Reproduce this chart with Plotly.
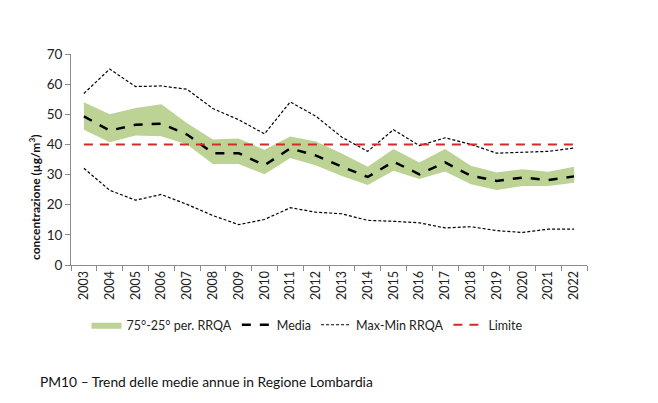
import plotly.graph_objects as go

years = [str(y) for y in range(2003, 2023)]
media = [49.3, 44.6, 46.5, 46.9, 43.3, 37.1, 37.1, 33.1, 38.7, 36.3,
         32.6, 29.2, 34.3, 30.1, 34.0, 29.6, 27.9, 29.0, 28.2, 29.4]
p75 = [54.0, 50.0, 52.1, 53.3, 47.0, 41.6, 42.0, 38.2, 42.6, 41.0,
       37.0, 32.6, 38.5, 34.0, 38.5, 32.9, 30.7, 31.8, 30.9, 32.6]
p25 = [44.9, 40.7, 43.0, 42.7, 40.0, 33.5, 33.5, 30.1, 35.5, 33.0,
       29.5, 26.5, 31.3, 28.5, 31.0, 26.8, 24.9, 26.2, 26.2, 27.3]
vmax = [56.9, 65.0, 59.2, 59.4, 58.3, 51.9, 48.2, 43.5, 54.1, 49.3,
        42.4, 37.7, 44.9, 39.6, 42.2, 40.0, 37.1, 37.4, 37.7, 38.8]
vmin = [32.1, 24.8, 21.5, 23.4, 20.1, 16.4, 13.4, 15.1, 19.0, 17.5,
        17.0, 14.8, 14.5, 14.0, 12.3, 12.7, 11.4, 10.8, 11.9, 11.9]
limite = [40] * len(years)

FONT = "Lato"
fig = go.Figure()
fig.add_trace(go.Scatter(x=years, y=p25, mode="lines", line=dict(width=0, color="#bcd395"),
                         showlegend=False, hoverinfo="skip"))
fig.add_trace(go.Scatter(x=years, y=p75, mode="lines", line=dict(width=0, color="#bcd395"),
                         fill="tonexty", fillcolor="#bcd395", name="75°-25° per. RRQA"))
fig.add_trace(go.Scatter(x=years, y=media, mode="lines", name="Media",
                         line=dict(color="black", width=2.5, dash="dash")))
fig.add_trace(go.Scatter(x=years, y=vmax, mode="lines", name="Max-Min RRQA", legendgroup="mm",
                         line=dict(color="black", width=1.2, dash="3px,2px")))
fig.add_trace(go.Scatter(x=years, y=vmin, mode="lines", name="Max-Min RRQA", legendgroup="mm",
                         showlegend=False, line=dict(color="black", width=1.2, dash="3px,2px")))
fig.add_trace(go.Scatter(x=years, y=limite, mode="lines", name="Limite",
                         line=dict(color="#d42a2a", width=2, dash="9px,7px")))

fig.update_layout(
    width=658, height=403,
    margin=dict(l=71, r=71, t=54, b=138),
    paper_bgcolor="white", plot_bgcolor="white",
    font=dict(family=FONT, size=12, color="#222"),
    legend=dict(orientation="h", x=0.03, y=-0.285, xanchor="left", yanchor="middle",
                font=dict(size=12.5), traceorder="normal", itemwidth=30),
    xaxis=dict(type="category", range=[-0.5, 19.5], tickangle=-90, showline=True,
               linecolor="#8c8c8c", ticks="outside", tickson="boundaries", ticklen=5,
               tickcolor="#8c8c8c", showgrid=False, tickfont=dict(size=12.5)),
    yaxis=dict(range=[0, 70], dtick=10, showline=True, linecolor="#8c8c8c", ticks="outside",
               ticklen=5, tickcolor="#8c8c8c", showgrid=False, zeroline=False,
               tickfont=dict(size=13.5)),
    annotations=[
        dict(text="PM10 – Trend delle medie annue in Regione Lombardia",
             xref="paper", yref="paper", x=-0.064, y=-0.55, xanchor="left",
             yanchor="middle", showarrow=False, font=dict(size=13.8, color="#111")),
        dict(text="<b>concentrazione (µg/m<sup>3</sup>)</b>", textangle=-90,
             xref="paper", yref="paper", x=-0.0698, y=0.322, xanchor="center",
             yanchor="middle", showarrow=False, font=dict(size=12, color="#111")),
    ],
)
fig.write_html("out.html")
